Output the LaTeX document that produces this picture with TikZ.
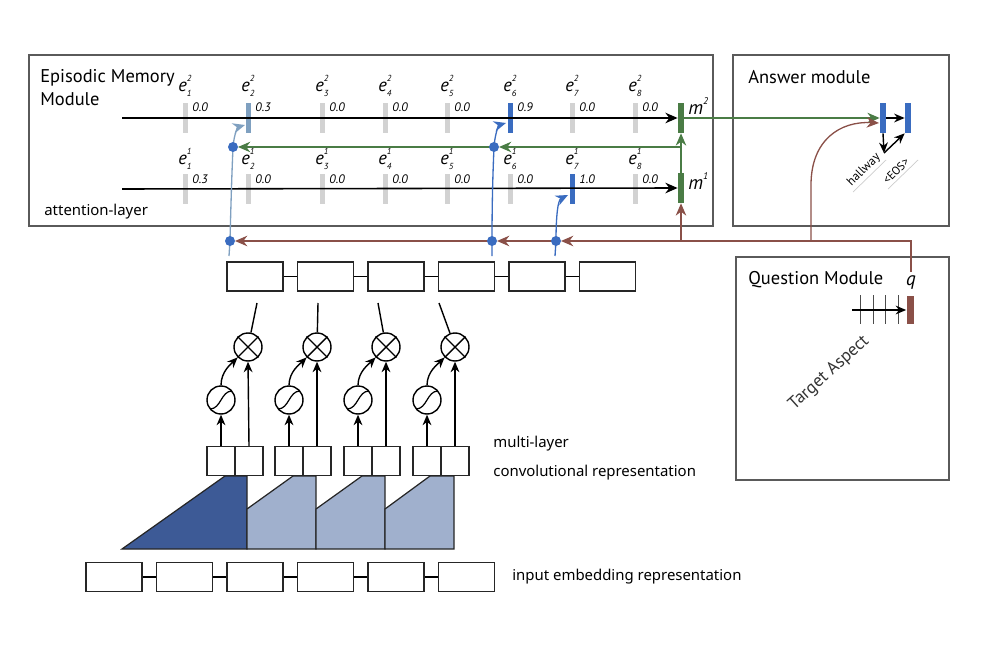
\documentclass[tikz,border=0pt]{standalone}
\usepackage{fontspec}
\setmainfont{PT Sans}
\newfontfamily\lightfont{Noto Sans}
\usetikzlibrary{arrows.meta}

\definecolor{barblue}{RGB}{58,108,192}
\definecolor{barsteel}{RGB}{127,160,192}
\definecolor{bargreen}{RGB}{74,124,69}
\definecolor{linebrown}{RGB}{138,80,72}
\definecolor{bargray}{RGB}{210,210,210}
\definecolor{boxgray}{RGB}{90,90,90}
\definecolor{convdark}{RGB}{61,90,150}
\definecolor{convlight}{RGB}{160,176,205}

\newcommand{\elab}[2]{{\itshape e}\rlap{\raisebox{1.1ex}{\fontsize{5}{5}\selectfont\itshape #1}}\raisebox{-0.6ex}{\fontsize{5}{5}\selectfont\itshape #2}}
\newcommand{\mlab}[1]{{\itshape m}\raisebox{0.95ex}{\fontsize{5.5}{5.5}\selectfont\itshape #1}}

\tikzset{
  modbox/.style={draw=boxgray,line width=0.75pt},
  cell/.style={draw=black!85,line width=0.8pt,minimum width=1.12cm,minimum height=0.58cm,inner sep=0pt},
  halfcell/.style={cell,minimum width=0.56cm},
  bar/.style={inner sep=0pt,minimum width=0.1cm,minimum height=0.6cm},
  wbar/.style={bar,minimum width=0.12cm},
  opcirc/.style={circle,draw=black,line width=0.8pt,minimum size=0.56cm,inner sep=0pt},
  dot/.style={circle,fill=barblue,inner sep=0pt,minimum size=0.2cm},
  rowline/.style={line width=0.9pt,-{Stealth[length=7pt,width=6pt]}},
  arr/.style={line width=0.8pt,-{Stealth[length=6pt,width=5pt]}},
  greenline/.style={draw=bargreen,line width=0.75pt,-{Stealth[length=7pt,width=6pt]}},
  brownline/.style={draw=linebrown,line width=0.75pt,-{Stealth[length=7pt,width=6pt]}},
  steelline/.style={draw=barsteel,line width=0.75pt,-{Stealth[length=7pt,width=6pt]}},
  blueline/.style={draw=barblue,line width=0.75pt,-{Stealth[length=7pt,width=6pt]}},
  elabel/.style={inner sep=0pt,font=\fontsize{10.5}{10.5}\selectfont},
  val/.style={anchor=west,inner sep=0pt,font=\fontsize{7}{7}\selectfont\itshape},
  lighttext/.style={anchor=west,inner sep=0pt,font=\lightfont\fontsize{8.5}{10}\selectfont},
  titletext/.style={anchor=west,inner sep=0pt,align=left,font=\fontsize{10.5}{13}\selectfont},
  convpoly/.style={draw=black!85,line width=0.7pt}
}

\begin{document}
\begin{tikzpicture}[x=0.02cm,y=-0.02cm]
\useasboundingbox (0,0) rectangle (1000,645);

\draw[modbox] (29,55) rectangle (713,226);
\draw[modbox] (733,55) rectangle (949,226);
\draw[modbox] (736,257) rectangle (949,480);

\node[titletext] (emmtitle) at (40,88) {Episodic Memory\\Module};
\node[lighttext] (attlayer) at (44,212) {attention-layer};
\node[titletext] (anstitle) at (748,77) {Answer module};
\node[titletext] (qtitle) at (748,280) {Question Module};

\node[bar,fill=bargray] (t1) at (185,118) {};
\node[elabel] at (185,86) {\elab{2}{1}};
\node[val] at (192,107) {0.0};

\node[bar,fill=barsteel] (t2) at (248,118) {};
\node[elabel] at (248,86) {\elab{2}{2}};
\node[val] at (255,107) {0.3};

\node[bar,fill=bargray] (t3) at (322,118) {};
\node[elabel] at (322,86) {\elab{2}{3}};
\node[val] at (329,107) {0.0};

\node[bar,fill=bargray] (t4) at (385,118) {};
\node[elabel] at (385,86) {\elab{2}{4}};
\node[val] at (392,107) {0.0};

\node[bar,fill=bargray] (t5) at (447,118) {};
\node[elabel] at (447,86) {\elab{2}{5}};
\node[val] at (454,107) {0.0};

\node[bar,fill=barblue] (t6) at (510,118) {};
\node[elabel] at (510,86) {\elab{2}{6}};
\node[val] at (517,107) {0.9};

\node[bar,fill=bargray] (t7) at (572,118) {};
\node[elabel] at (572,86) {\elab{2}{7}};
\node[val] at (579,107) {0.0};

\node[bar,fill=bargray] (t8) at (635,118) {};
\node[elabel] at (635,86) {\elab{2}{8}};
\node[val] at (642,107) {0.0};

\node[bar,fill=bargray] (b1) at (185,189) {};
\node[elabel] at (185,159) {\elab{1}{1}};
\node[val] at (192,179) {0.3};

\node[bar,fill=bargray] (b2) at (248,189) {};
\node[elabel] at (248,159) {\elab{1}{2}};
\node[val] at (255,179) {0.0};

\node[bar,fill=bargray] (b3) at (322,189) {};
\node[elabel] at (322,159) {\elab{1}{3}};
\node[val] at (329,179) {0.0};

\node[bar,fill=bargray] (b4) at (385,189) {};
\node[elabel] at (385,159) {\elab{1}{4}};
\node[val] at (392,179) {0.0};

\node[bar,fill=bargray] (b5) at (447,189) {};
\node[elabel] at (447,159) {\elab{1}{5}};
\node[val] at (454,179) {0.0};

\node[bar,fill=bargray] (b6) at (510,189) {};
\node[elabel] at (510,159) {\elab{1}{6}};
\node[val] at (517,179) {0.0};

\node[bar,fill=barblue] (b7) at (572,189) {};
\node[elabel] at (572,159) {\elab{1}{7}};
\node[val] at (579,179) {1.0};

\node[bar,fill=bargray] (b8) at (635,189) {};
\node[elabel] at (635,159) {\elab{1}{8}};
\node[val] at (642,179) {0.0};

\node[wbar,fill=bargreen] (mtop) at (681,118) {};
\node[wbar,fill=bargreen] (mbot) at (681,188) {};
\node[anchor=west,inner sep=0pt,font=\fontsize{11}{11}\selectfont] at (688,106) {\mlab{2}};
\node[anchor=west,inner sep=0pt,font=\fontsize{11}{11}\selectfont] at (688,181) {\mlab{1}};

\coordinate (rowtopstart) at (122,118);
\coordinate (rowbotstart) at (122,189);
\draw[rowline] (rowtopstart) -- (mtop.west);
\draw[rowline] (rowbotstart) -- (mbot.west);

\node[wbar,fill=barblue] (ans1) at (883,118) {};
\node[wbar,fill=barblue] (ans2) at (908,118) {};
\coordinate (hwpt) at (884,153);
\draw[arr] (ans1.east) -- (ans2.west);
\draw[arr] (ans1.south) -- (hwpt);
\draw[arr] (hwpt) -- (ans2.south west);
\draw[black!20,line width=0.4pt] (853,192) -- (886,160);
\draw[black!20,line width=0.4pt] (888,189) -- (918,160);
\node[rotate=45,font=\fontsize{7}{7}\selectfont] at (864,170) {hallway};
\node[rotate=45,font=\fontsize{6.5}{7}\selectfont] at (896,171) {<EOS>};

\node[wbar,fill=linebrown,minimum width=0.14cm,minimum height=0.58cm] (qbar) at (910,310) {};
\node[font=\fontsize{11}{11}\selectfont\itshape] (qlab) at (911,283) {q};
\coordinate (qin) at (852,310);
\draw[black!70,line width=0.4pt] (860,295) -- (860,324);
\draw[black!70,line width=0.4pt] (873,295) -- (873,324);
\draw[black!70,line width=0.4pt] (885,295) -- (885,324);
\draw[black!70,line width=0.4pt] (898,295) -- (898,324);
\draw[arr] (qin) -- (qbar.west);
\node[rotate=42,font=\fontsize{10}{10}\selectfont,text=black!80] at (829,373) {Target Aspect};

\coordinate (dotlo1) at (230,241);
\coordinate (dotlo2) at (492,241);
\coordinate (dotlo3) at (556,241);
\coordinate (dotup1) at (233,147);
\coordinate (dotup2) at (494,147);
\coordinate (gsplit) at (681,147);
\coordinate (bsplit) at (681,241);
\coordinate (bsplit2) at (811,241);
\coordinate (qstart) at (911,272);
\coordinate (ansin) at (879,123);

\draw[greenline] (mbot.north) -- (mtop.south);
\draw[greenline] (mtop.east) -- (ans1.west);
\draw[greenline,shorten >=0.1cm] (gsplit) -- (dotup2);
\draw[greenline,shorten >=0.1cm] (dotup2) -- (dotup1);

\draw[brownline,shorten >=0.1cm] (qstart) |- (dotlo3);
\draw[brownline,shorten >=0.1cm] (dotlo3) -- (dotlo2);
\draw[brownline,shorten >=0.1cm] (dotlo2) -- (dotlo1);
\draw[brownline] (bsplit) -- (mbot.south);
\draw[brownline] (bsplit2) -- (811,185) .. controls (811,140) and (840,121) .. (ansin);

\draw[steelline] (229,256) -- (dotlo1) .. controls (231,200) and (232,170) .. (dotup1) .. controls (234,134) and (238,127) .. (245,125);
\draw[blueline] (492,256) -- (dotlo2) .. controls (492,200) and (493,170) .. (dotup2) .. controls (495,133) and (499,125) .. (506,123);
\draw[blueline] (555,256) -- (dotlo3) .. controls (556,215) and (558,200) .. (568,195);

\node[dot] at (dotlo1) {};
\node[dot] at (dotlo2) {};
\node[dot] at (dotlo3) {};
\node[dot] at (dotup1) {};
\node[dot] at (dotup2) {};

\node[cell] (h1) at (255,276.5) {};
\node[cell] (h2) at (325.5,276.5) {};
\node[cell] (h3) at (396,276.5) {};
\node[cell] (h4) at (466.5,276.5) {};
\node[cell] (h5) at (537,276.5) {};
\node[cell] (h6) at (607.5,276.5) {};
\draw[line width=0.8pt] (h1) -- (h2) (h2) -- (h3) (h3) -- (h4) (h4) -- (h5) (h5) -- (h6);

\node[cell] (in1) at (114,577) {};
\node[cell] (in2) at (184.5,577) {};
\node[cell] (in3) at (255,577) {};
\node[cell] (in4) at (325.5,577) {};
\node[cell] (in5) at (396,577) {};
\node[cell] (in6) at (466.5,577) {};
\draw[line width=0.8pt] (in1) -- (in2) (in2) -- (in3) (in3) -- (in4) (in4) -- (in5) (in5) -- (in6);

\draw[convpoly,fill=convdark] (122,549) -- (225,476) -- (247,476) -- (247,549) -- cycle;
\draw[convpoly,fill=convlight] (247,549) -- (247,509) -- (293,476) -- (316,476) -- (316,549) -- cycle;
\draw[convpoly,fill=convlight] (316,549) -- (316,509) -- (362,476) -- (385,476) -- (385,549) -- cycle;
\draw[convpoly,fill=convlight] (385,549) -- (385,509) -- (430,476) -- (454,476) -- (454,549) -- cycle;

\node[halfcell] (cl1) at (221,461) {};
\node[halfcell] (cr1) at (249,461) {};
\node[halfcell] (cl2) at (289,461) {};
\node[halfcell] (cr2) at (317,461) {};
\node[halfcell] (cl3) at (358,461) {};
\node[halfcell] (cr3) at (386,461) {};
\node[halfcell] (cl4) at (427,461) {};
\node[halfcell] (cr4) at (455,461) {};

\node[opcirc] (s1) at (221,400) {};
\node[opcirc] (s2) at (289,400) {};
\node[opcirc] (s3) at (358,400) {};
\node[opcirc] (s4) at (427,400) {};
\draw[line width=0.7pt] (s1.center) ++(-11,9) .. controls +(11,0) and +(-11,0) .. ++(22,-18);
\draw[line width=0.7pt] (s2.center) ++(-11,9) .. controls +(11,0) and +(-11,0) .. ++(22,-18);
\draw[line width=0.7pt] (s3.center) ++(-11,9) .. controls +(11,0) and +(-11,0) .. ++(22,-18);
\draw[line width=0.7pt] (s4.center) ++(-11,9) .. controls +(11,0) and +(-11,0) .. ++(22,-18);

\node[opcirc] (g1) at (248,347) {};
\node[opcirc] (g2) at (317,347) {};
\node[opcirc] (g3) at (386,347) {};
\node[opcirc] (g4) at (455,347) {};
\draw[line width=0.8pt] (g1.north west) -- (g1.south east) (g1.north east) -- (g1.south west);
\draw[line width=0.8pt] (g2.north west) -- (g2.south east) (g2.north east) -- (g2.south west);
\draw[line width=0.8pt] (g3.north west) -- (g3.south east) (g3.north east) -- (g3.south west);
\draw[line width=0.8pt] (g4.north west) -- (g4.south east) (g4.north east) -- (g4.south west);

\draw[arr] (cl1) -- (s1);
\draw[arr] (cl2) -- (s2);
\draw[arr] (cl3) -- (s3);
\draw[arr] (cl4) -- (s4);
\draw[arr] (cr1.north) -- (g1.south);
\draw[arr] (cr2.north) -- (g2.south);
\draw[arr] (cr3.north) -- (g3.south);
\draw[arr] (cr4.north) -- (g4.south);
\draw[arr] (s1.north) .. controls +(0,-14) and +(-6,6) .. (g1.south west);
\draw[arr] (s2.north) .. controls +(0,-14) and +(-6,6) .. (g2.south west);
\draw[arr] (s3.north) .. controls +(0,-14) and +(-6,6) .. (g3.south west);
\draw[arr] (s4.north) .. controls +(0,-14) and +(-6,6) .. (g4.south west);

\coordinate (gin1) at (257,303);
\coordinate (gin2) at (318,303);
\coordinate (gin3) at (378,303);
\coordinate (gin4) at (439,303);
\draw[line width=0.8pt] (gin1) -- (g1);
\draw[line width=0.8pt] (gin2) -- (g2);
\draw[line width=0.8pt] (gin3) -- (g3);
\draw[line width=0.8pt] (gin4) -- (g4);

\node[lighttext] at (493,444) {multi-layer};
\node[lighttext] at (493,473) {convolutional representation};
\node[lighttext] at (512,577) {input embedding representation};
\end{tikzpicture}
\end{document}
